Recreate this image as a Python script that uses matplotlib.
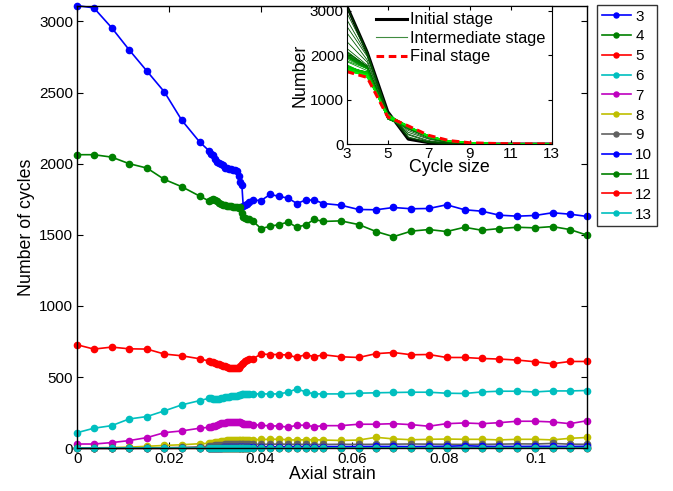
import numpy as np
import matplotlib.pyplot as plt
from matplotlib.lines import Line2D

plt.rcParams['font.family'] = ['Liberation Sans', 'DejaVu Sans']
plt.rcParams['font.size'] = 11

# axial strain steps
strain = [0, 0.0036, 0.0075, 0.0113, 0.0152, 0.0190, 0.0228, 0.0267,
          0.0288, 0.0291, 0.0296, 0.0300, 0.0304, 0.0309, 0.0313, 0.0318, 0.0322, 0.0326,
          0.0331, 0.0335, 0.0340, 0.0344, 0.0348, 0.0353, 0.0356, 0.0359, 0.0362, 0.0366,
          0.0370, 0.0375,
          0.0383, 0.0401, 0.0421, 0.0440, 0.0460, 0.0479, 0.0498, 0.0517, 0.0537, 0.0575,
          0.0614, 0.0652, 0.0690, 0.0729, 0.0767, 0.0806, 0.0845, 0.0883, 0.0921, 0.0960,
          0.0999, 0.1037, 0.1075, 0.1113]

# number of cycles of each size
c3 = [3110, 3095, 2955, 2800, 2650, 2504, 2305, 2152,
      2089, 2070, 2058, 2035, 2014, 2005, 2000, 1990, 1972, 1968, 1965, 1960, 1955, 1953,
      1948, 1913, 1870, 1852, 1706, 1712, 1720, 1732,
      1744, 1741, 1784, 1770, 1758, 1720, 1744, 1744, 1720, 1708, 1678, 1676, 1692, 1683,
      1685, 1711, 1676, 1666, 1638, 1631, 1636, 1655, 1645, 1629]
c4 = [2063, 2063, 2046, 2000, 1969, 1889, 1838, 1772,
      1737, 1745, 1749, 1742, 1737, 1725, 1718, 1710, 1708, 1705, 1704, 1700, 1697, 1694,
      1692, 1690, 1694, 1650, 1624, 1615, 1614, 1613,
      1596, 1544, 1560, 1572, 1589, 1553, 1570, 1608, 1594, 1598, 1572, 1523, 1487, 1526,
      1537, 1523, 1553, 1532, 1544, 1553, 1549, 1558, 1537, 1497]
c5 = [727, 697, 711, 699, 697, 662, 650, 629,
      612, 608, 605, 600, 595, 590, 585, 580, 575, 570, 567, 565, 563, 563, 563, 565,
      575, 590, 600, 610, 620, 625,
      629, 662, 659, 659, 655, 638, 659, 643, 657, 643, 638, 665, 673, 657, 659, 638,
      638, 631, 627, 620, 608, 594, 610, 610]
c6 = [110, 141, 159, 206, 223, 263, 305, 335,
      352, 350, 348, 347, 346, 348, 352, 356, 360, 362, 363, 365, 366, 368, 370, 372,
      375, 378, 380, 382, 382, 382,
      382, 382, 382, 382, 394, 418, 396, 382, 382, 382, 387, 390, 392, 394, 394, 387,
      385, 396, 401, 401, 396, 403, 403, 406]
c7 = [30, 30, 40, 54, 75, 110, 122, 141,
      148, 150, 155, 160, 165, 170, 175, 178, 180, 182, 184, 186, 187, 187, 186, 185,
      182, 178, 174, 172, 170, 168,
      166, 162, 157, 157, 148, 162, 162, 152, 159, 159, 169, 169, 173, 166, 155, 173,
      178, 173, 180, 190, 190, 185, 173, 194]
c8 = [2, 3, 5, 8, 14, 20, 25, 32,
      35, 38, 40, 42, 45, 47, 50, 52, 54, 55, 56, 57, 58, 58, 59, 60, 60, 60, 60, 61, 61, 60,
      60, 62, 63, 64, 60, 58, 60, 60, 58, 55, 58, 77, 66, 60, 63, 65, 63, 63, 59, 63,
      63, 59, 70, 76]
c9 = [0, 0, 0, 1, 2, 4, 6, 10,
      15, 17, 19, 21, 22, 24, 25, 26, 27, 28, 28, 29, 29, 30, 30, 30, 30, 30, 30, 29, 29, 28,
      28, 27, 28, 29, 28, 27, 27, 26, 27, 28, 27, 28, 29, 30, 29, 28, 27, 28, 29, 31,
      30, 34, 29, 28]
c10 = [0, 0, 0, 0, 0, 0, 1, 2,
       3, 3, 4, 4, 5, 5, 5, 6, 6, 6, 7, 7, 7, 8, 8, 8, 8, 8, 9, 9, 9, 9,
       9, 10, 10, 10, 11, 11, 11, 12, 12, 12, 12, 13, 13, 12, 13, 14, 18, 14, 13, 13,
       14, 14, 13, 14]
c11 = [0, 0, 0, 0, 0, 0, 0, 0,
       1, 1, 1, 1, 1, 1, 1, 1, 1, 1, 1, 2, 2, 2, 2, 2, 2, 2, 2, 2, 2, 2,
       2, 2, 2, 3, 3, 3, 3, 3, 3, 3, 3, 3, 3, 3, 4, 4, 4, 4, 4, 4, 4, 4, 4, 4]
c12 = [0, 0, 0, 0, 0, 0, 0, 0,
       0, 0, 0, 0, 0, 0, 0, 0, 0, 0, 0, 0, 0, 0, 0, 0, 0, 0, 1, 1, 1, 1,
       1, 1, 1, 1, 1, 1, 1, 1, 1, 1, 1, 1, 1, 1, 1, 1, 1, 1, 1, 1, 1, 1, 1, 1]
c13 = [0] * 54

cycle_sizes = [3, 4, 5, 6, 7, 8, 9, 10, 11, 12, 13]
series = [c3, c4, c5, c6, c7, c8, c9, c10, c11, c12, c13]
colors = [(0, 0, 1), (0, 0.5, 0), (1, 0, 0), (0, 0.75, 0.75), (0.75, 0, 0.75),
          (0.75, 0.75, 0), (0.38, 0.38, 0.38)]
colors = colors + colors[:4]

fig = plt.figure(figsize=(6.73, 4.91), dpi=100)
ax = fig.add_axes([0.1149, 0.087, 0.7578, 0.9014])

for i in range(len(series)):
    ax.plot(strain, series[i], '-o', color=colors[i], lw=1.2, ms=4.5,
            label=str(cycle_sizes[i]), clip_on=False)

ax.set_xlim(strain[0], strain[-1])
ax.set_ylim(0, 3110)
ax.set_xticks([0, 0.02, 0.04, 0.06, 0.08, 0.1])
ax.set_xticklabels(['0', '0.02', '0.04', '0.06', '0.08', '0.1'])
ax.set_yticks([0, 500, 1000, 1500, 2000, 2500, 3000])
ax.tick_params(direction='in', top=True, right=True, length=4, pad=3)
ax.set_xlabel('Axial strain', fontsize=12.8, labelpad=0)
ax.set_ylabel('Number of cycles', fontsize=12.8, labelpad=3)
for s in ax.spines.values():
    s.set_linewidth(1.0)

fig.legend(loc='upper left', bbox_to_anchor=(597 / 673, 1 - 5 / 491),
           frameon=True, fancybox=False, edgecolor='black', handlelength=1.9,
           handletextpad=0.3, labelspacing=0.38, borderpad=0.3, borderaxespad=0,
           markerscale=0.8)

# inset: distribution of cycle sizes at each strain step
ins = fig.add_axes([0.5152, 0.7067, 0.3046, 0.2817])
counts = np.array(series).T
n = len(strain)
ins.plot(cycle_sizes, counts[0], color='black', lw=2.2)
for k in range(1, n - 1):
    t = k / (n - 2)
    ins.plot(cycle_sizes, counts[k], color=(0, 0.3 + 0.65 * t, 0), lw=0.6)
ins.plot(cycle_sizes, counts[-1], color='red', lw=2.2, ls='--', dashes=(2.5, 1.5))
ins.set_xlim(3, 13)
ins.set_ylim(0, 3110)
ins.set_xticks([3, 5, 7, 9, 11, 13])
ins.set_yticks([0, 1000, 2000, 3000])
ins.tick_params(direction='in', top=True, right=True, length=3, pad=2)
ins.set_xlabel('Cycle size', fontsize=12.8, labelpad=-1)
ins.set_ylabel('Number', fontsize=12.8, labelpad=1)

handles = [Line2D([], [], color='black', lw=2.2),
           Line2D([], [], color=(0.25, 0.55, 0.25), lw=0.8),
           Line2D([], [], color='red', lw=2.2, ls='--', dashes=(2.5, 1.5))]
ins.legend(handles, ['Initial stage', 'Intermediate stage', 'Final stage'],
           loc='upper right', frameon=False, fontsize=11.8, handlelength=1.9,
           handletextpad=0.15, labelspacing=0.22, borderaxespad=0.1, borderpad=0.3)

fig.savefig('out.png', dpi=100)
